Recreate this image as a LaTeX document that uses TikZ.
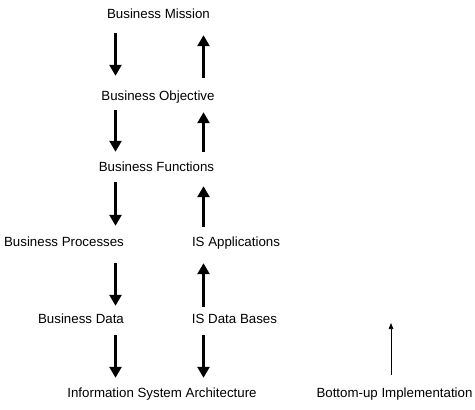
\documentclass[tikz,border=0pt]{standalone}
\usepackage{fontspec}
\setmainfont{Liberation Sans}
\usetikzlibrary{arrows.meta}
\begin{document}
\begin{tikzpicture}[x=1pt,y=-1pt,
  lbl/.style={inner sep=0pt,text height=10pt,text depth=3pt,font=\fontsize{13.3}{15}\selectfont},
  bigarrow/.style={line width=2.6pt,-{Triangle[width=12pt,length=11pt]}},
  thinarrow/.style={line width=0.7pt,-{Triangle[width=4.5pt,length=6pt]}}]
\useasboundingbox[fill=white] (0,0) rectangle (475,410);
\coordinate (L) at (115.5,0);
\coordinate (R) at (203.5,0);
\node[lbl] (mission)   at (158.5,15)  {Business Mission};
\node[lbl] (objective) at (158,97)    {Business Objective};
\node[lbl] (functions) at (156.5,168) {Business Functions};
\node[lbl] (processes) at (64,243)    {Business Processes};
\node[lbl] (apps)      at (236,243)   {IS Applications};
\node[lbl] (bdata)     at (81,320)    {Business Data};
\node[lbl] (dbases)    at (234.5,320) {IS Data Bases};
\node[lbl] (isa)       at (162,394)   {Information System Architecture};
\node[lbl] (bottomup)  at (394.5,394) {Bottom-up Implementation};
\coordinate (thintip) at (391,323);
% left column, top-down
\draw[bigarrow,shorten <=11.5pt,shorten >=14.5pt] (mission.south -| L) -- (objective.north -| L);
\draw[bigarrow,shorten <=6.5pt,shorten >=9.5pt] (objective.south -| L) -- (functions.north -| L);
\draw[bigarrow,shorten <=7.5pt,shorten >=10.5pt] (functions.south -| L) -- (processes.north -| L);
\draw[bigarrow,shorten <=13.5pt,shorten >=7.5pt] (processes.south -| L) -- (bdata.north -| L);
\draw[bigarrow,shorten <=8.5pt,shorten >=9.5pt] (bdata.south -| L) -- (isa.north -| L);
% right column, bottom-up
\draw[bigarrow,shorten <=12.5pt,shorten >=13.5pt] (objective.north -| R) -- (mission.south -| R);
\draw[bigarrow,shorten <=9.5pt,shorten >=8.5pt] (functions.north -| R) -- (objective.south -| R);
\draw[bigarrow,shorten <=9.5pt,shorten >=11.5pt] (apps.north -| R) -- (functions.south -| R);
\draw[bigarrow,shorten <=6.5pt,shorten >=13.5pt] (dbases.north -| R) -- (apps.south -| R);
\draw[bigarrow,shorten <=8.5pt,shorten >=9.5pt] (dbases.south -| R) -- (isa.north -| R);
% legend arrow
\draw[thinarrow,shorten <=12.5pt] (bottomup.north -| thintip) -- (thintip);
\end{tikzpicture}
\end{document}
